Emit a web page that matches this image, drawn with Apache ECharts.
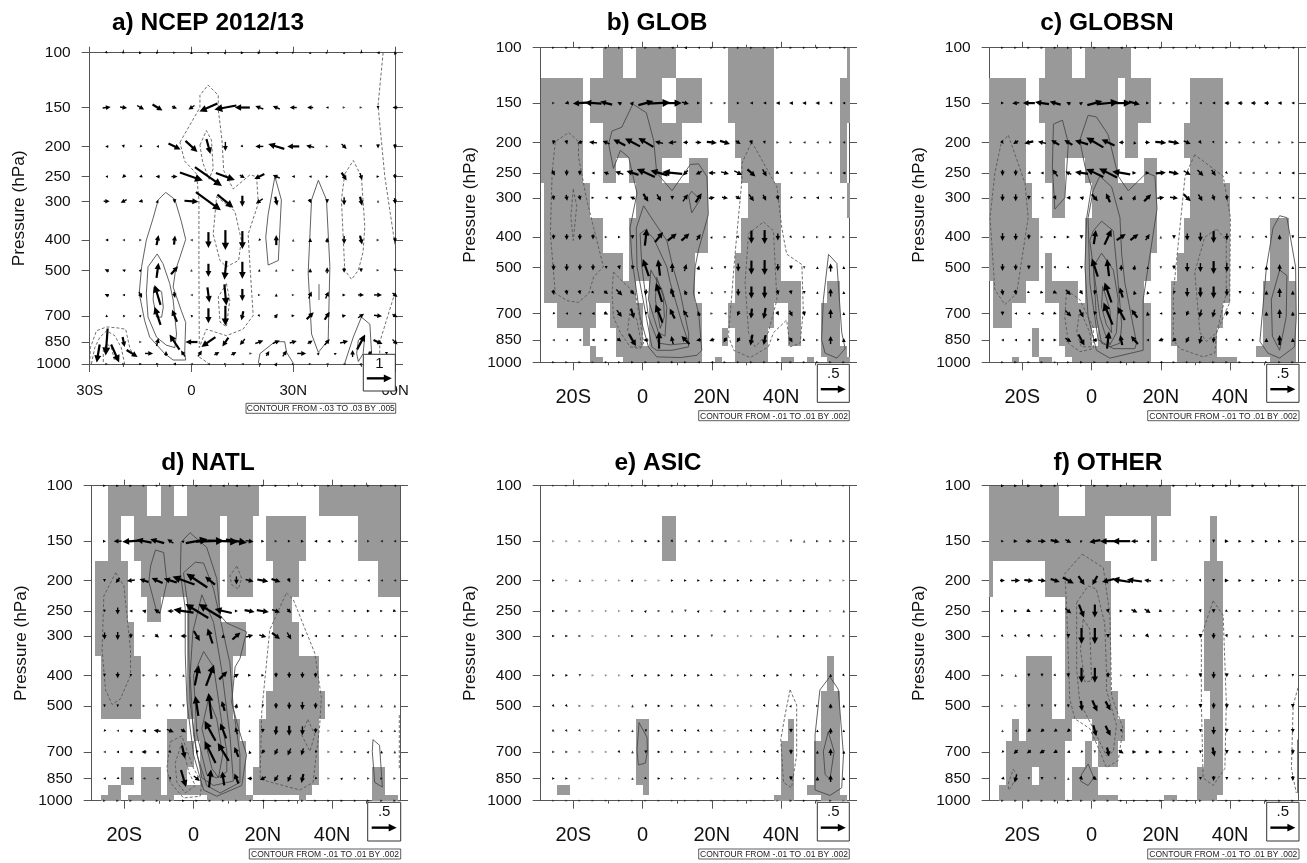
<!DOCTYPE html>
<html><head><meta charset="utf-8"><style>html,body{margin:0;padding:0;background:#fff}#c{width:1307px;height:863px}</style>
<script src="https://cdn.jsdelivr.net/npm/echarts@6/dist/echarts.min.js"></script></head><body><div id="c"></div>
<script>
// ---------- axes / categories ----------
const pressureTicks=[100,150,200,250,300,400,500,700,850,1000];
const levels=[100,150,200,250,300,400,500,600,700,850,1000];
const latsA=[-25,-20,-15,-10,-5,0,5,10,15,20,25,30,35,40,45,50,55,60];
const lats925A=[-27.5,-22.5,-17.5,-12.5,-7.5,-2.5,2.5,7.5,12.5,17.5,22.5,27.5,32.5,37.5,42.5,47.5,52.5,57.5];
const latsG=[-25.7,-21.9,-18.1,-14.3,-10.5,-6.7,-2.9,0.95,4.76,8.57,12.38,16.19,20,23.81,27.62,31.43,35.24,39.05,42.86,46.67,50.48,54.29,58.1];
const bandEdges=[100,124.5,173,225,270,348,450,550,648,780,890,960,1000];
const cellDeg=1.904;
const titles=['a) NCEP 2012/13','b) GLOB','c) GLOBSN','d) NATL','e) ASIC','f) OTHER'];
const keyText=['1','.5','.5','.5','.5','.5'];
const noteText=['CONTOUR FROM -.03 TO .03 BY .005','CONTOUR FROM -.01 TO .01 BY .002','CONTOUR FROM -.01 TO .01 BY .002','CONTOUR FROM -.01 TO .01 BY .002','CONTOUR FROM -.01 TO .01 BY .002','CONTOUR FROM -.01 TO .01 BY .002'];
// ---------- wind vectors: flat u,v pairs per level (25 units = key arrow) ----------
const windA=[
[1,-1,2,-1,3,0,2,0,1,0,0,2,1,1,1,1,3,0,3,0,-3,0,1,0,0,1,1,0,0,1,-1,-1,-3,0,-1,3],
[8,1,7,-1,7,-4,10,-6,5,-2,-6,-4,-18,-8,-22,-4,-15,0,-8,3,-7,3,-7,0,-6,0,-2,0,1,0,1,0,0,-3,-5,0],
[-3,0,1,-3,-2,-2,-2,0,12,-6,12,-11,4,-15,0,-9,1,-1,-8,0,-16,5,-12,0,-8,2,1,0,5,-5,1,-2,0,-4,0,-5],
[-2,0,-3,-3,-3,-1,-4,0,6,0,23,-8,27,-19,19,-7,5,-3,-10,-5,-7,3,-3,0,-2,0,2,0,5,-8,2,-7,2,0,1,-5],
[6,0,-6,-3,-4,-1,1,3,0,-4,14,-1,25,-18,16,-13,0,-11,-7,-5,2,-9,-1,0,2,-4,0,-4,0,-8,2,-9,0,1,1,-6],
[-3,0,-1,0,1,0,2,10,1,9,-1,0,0,-16,0,-20,0,-18,-1,-1,0,10,0,1,0,4,0,5,0,-8,2,-9,1,0,0,-5],
[-4,2,-3,1,1,1,2,15,7,8,0,1,0,-13,-2,-19,0,-17,0,2,0,1,1,0,0,4,0,6,0,-5,0,-4,1,0,0,-3],
[-4,2,-2,0,3,-6,-6,20,1,-6,-1,0,2,-15,2,-21,0,-12,1,0,0,3,1,0,3,7,3,7,3,0,6,0,8,0,5,-4],
[0,2,-1,1,1,1,-6,18,-5,12,-1,1,0,-15,0,-20,-2,-9,1,-1,3,4,3,0,7,7,5,8,4,1,6,4,8,-1,5,-3],
[-2,-27,2,-10,1,0,2,8,-10,15,-12,0,-14,-10,-6,-9,-5,-6,8,3,7,3,7,2,5,3,5,6,8,2,8,15,9,-4,5,-5],
[1,0,1,0,2,0,2,0,-3,0,-1,0,-1,0,1,0,-1,0,-2,0,2,3,1,0,1,0,-1,0,-1,0,1,1,-1,-1,2,3]];
const wind925A=[-3,-18,8,-18,11,-7,8,0,0,5,-4,6,4,6,5,3,5,3,1,0,3,5,4,6,9,0,2,2,2,1,0,7,-4,-4,0,-3];
const windB=[
[1,0,1,0,1,0,1,0,1,0,1,0,1,0,1,0,-1,0,-2,0,-3,0,-1,0,1,0,1,0,1,0,1,0,1,0,1,0,1,0,1,0,1,0,1,0,-1,0],
[1,0,-4,-1,-14,-1,-17,1,-12,3,-4,2,3,3,15,4,23,1,19,0,7,-2,3,0,1,0,1,0,2,0,-3,0,-3,0,-4,0,-4,0,-4,0,-4,0,-3,0,-2,0],
[-1,-4,1,-4,-5,-2,-8,1,-7,3,-12,6,-15,8,-15,9,-8,2,-8,-1,-5,0,6,0,10,-1,10,-3,5,-3,1,-4,1,-3,1,0,1,0,-1,0,-1,0,1,0,-1,0],
[3,-5,0,-6,0,-5,-3,0,-5,2,-8,3,-12,4,-18,8,-17,5,-20,2,-5,-5,-6,-3,-7,0,8,-2,8,-4,8,-7,4,-7,3,-2,-2,0,-1,0,-1,0,-1,0,-3,0],
[1,-5,1,-6,1,-5,2,0,-2,0,-4,1,-5,2,5,-8,4,-7,0,-4,5,7,6,9,6,1,6,-1,5,-3,5,-7,3,-6,1,-5,-1,-1,-2,0,-3,0,-2,0,1,0],
[0,-5,0,-6,0,-6,0,-5,1,0,2,0,0,-4,2,17,8,10,9,7,8,7,4,6,1,2,1,0,1,-1,0,-13,0,-14,0,-7,1,-1,1,0,1,0,2,0,1,0],
[0,-6,0,-7,0,-6,0,-6,0,-3,1,-4,-1,-4,-6,17,-2,16,0,9,2,7,1,4,0,1,0,-2,0,-8,0,-14,0,-15,0,-7,0,-4,0,-1,0,2,0,8,0,3],
[1,-5,1,-5,1,-4,2,-2,4,-3,6,-6,4,-4,-1,-6,-6,19,-3,9,-2,5,-1,1,0,1,0,-1,0,-7,0,-12,0,-12,1,-5,1,-4,0,-3,0,2,0,8,0,3],
[-1,-1,-2,0,-2,0,-3,0,4,-2,5,-7,3,-10,-1,-3,-7,18,-5,10,-5,7,-2,5,1,0,-1,0,-2,-5,-1,-10,-2,-11,2,-4,3,-6,1,-5,0,2,0,9,0,3],
[-1,0,-1,0,-1,0,-3,0,3,0,4,-3,7,-12,-5,0,0,17,-2,8,-8,8,-5,-1,-5,-2,-3,-5,-3,-5,-2,-11,-2,-10,-1,-2,3,-5,2,-1,1,0,0,8,0,4],
[1,0,1,0,1,0,.7,0,1,0,1,0,2,0,1,0,1,0,2,0,1,0,-1,0,-2,0,1,0,1,0,1,0,1,0,1,0,1,0,1,0,1,0,1,0,1,0]];
const windC=[
[1,0,1,0,1,0,1,0,1,0,1,0,1,0,1,0,-1,0,-2,0,-2,0,-1,0,1,0,1,0,1,0,1,0,1,0,1,0,1,0,1,0,1,0,1,0,-1,0],
[3,0,-7,-1,-12,0,-14,2,-11,3,-4,2,3,2,15,4,21,2,20,0,11,-3,3,0,1,0,1,0,1,0,-2,0,-3,0,-5,0,-5,0,-5,0,-5,0,-4,0,-3,0],
[2,-3,-5,-3,-9,-2,-8,2,-8,5,-8,5,-13,4,-17,10,-13,6,-5,0,-1,3,5,0,11,-1,11,-2,7,-3,2,-3,1,-2,1,0,1,0,-1,0,-1,0,1,0,1,0],
[0,-6,0,-6,-3,-1,-3,0,-5,7,-6,3,-13,2,-17,8,-18,9,-18,3,4,0,4,0,10,1,10,-2,7,-4,6,-6,4,-6,2,-2,-1,0,-1,0,-1,0,-2,0,-3,0],
[0,-7,0,-7,0,-4,-1,0,2,-4,-4,0,-4,1,6,-7,-4,9,1,4,2,5,7,7,7,1,8,-1,7,-7,4,-7,2,-6,0,-5,-1,0,-2,0,-1,0,-2,0,-2,0],
[0,-8,0,-7,0,-5,1,0,2,0,3,0,0,-4,2,14,7,15,9,6,8,6,4,6,0,1,0,-4,0,-7,0,-9,0,-12,0,-7,0,-1,1,0,1,-1,0,5,0,-3],
[0,-7,0,-6,0,-4,0,-2,1,-2,1,-1,0,-3,-6,18,-2,17,0,6,1,5,0,2,0,-1,0,-4,0,-9,0,-9,0,-13,0,-9,0,-2,1,0,0,4,0,7,0,3],
[1,-6,1,-5,2,-1,3,-1,4,-2,5,-5,3,-4,-1,-5,-7,20,-3,10,-1,4,-1,3,1,0,-1,-3,0,-9,0,-10,0,-12,0,-7,0,-3,0,1,0,4,0,9,0,4],
[0,-4,-2,0,-2,0,-3,0,3,-1,6,-6,4,-8,-1,-4,-9,22,-7,13,-6,8,-1,4,-2,0,-2,-1,-2,-5,-2,-8,-2,-8,-1,-5,1,-3,1,-1,0,4,0,9,0,4],
[-2,0,-2,0,-2,0,-3,0,3,0,6,-4,6,-11,-5,0,2,17,-2,10,-7,8,-2,0,-5,-2,-4,-3,-3,-6,-2,-8,-1,-6,1,-1,2,-1,2,0,0,4,0,10,0,4],
[1,0,1,0,1,0,1,0,.7,0,1,0,2,0,1,0,1,0,2,0,1,0,-1,0,-2,0,1,0,1,0,1,0,1,0,1,0,1,0,1,0,1,0,1,0,1,0]];
const windD=[
[2,0,2,0,2,0,1,0,1,0,1,0,1,0,1,0,-1,0,-2,0,-2,0,1,0,1,0,2,0,1,0,1,0,1,0,1,0,1,0,1,0,1,0,1,0,-1,0],
[3,0,-8,0,-17,-1,-15,3,-14,4,-6,4,2,2,22,4,28,1,30,-1,21,-3,8,-1,3,0,1,0,2,0,3,0,-3,0,-3,0,-1,1,-1,0,1,0,-1,0,-1,0],
[0,-3,-4,-5,-8,-1,-9,3,-11,5,-13,4,-22,8,-21,14,-10,8,-1,0,0,-8,8,-2,11,-2,9,-3,2,-4,-2,0,-1,0,-2,0,-1,0,-1,0,-2,0,-1,0,-1,0],
[0,-2,0,-7,-3,0,-4,1,-6,4,-6,0,-20,3,-23,14,-23,14,-17,4,3,0,10,-2,12,-2,8,-3,4,-4,-2,0,1,0,-1,0,-1,0,2,0,3,0,2,0,3,-1],
[0,-7,0,-8,0,-5,1,0,4,-3,-3,0,-6,0,6,-10,-5,15,0,4,8,7,7,2,7,-2,8,-6,4,-7,-1,-2,-2,0,-2,0,-2,0,-1,0,1,0,-1,0,-2,0],
[0,-3,0,-6,0,-2,1,0,1,0,1,0,0,1,4,20,8,21,8,8,5,3,3,0,2,0,0,-5,0,-6,0,-6,0,-5,1,0,1,0,1,0,1,0,1,0,-1,-1],
[0,-2,0,-2,0,-2,1,0,0,-1,0,-2,0,-1,-3,20,-3,26,-3,10,1,5,0,1,0,-2,0,-6,0,-7,0,-8,0,-6,0,-1,0,1,0,1,0,1,0,1,0,1],
[-1,-1,-1,0,-3,1,-4,0,-7,1,7,-3,5,-3,-1,-2,-11,20,-6,15,-2,7,0,1,0,-4,-1,-9,0,-10,0,-9,0,-5,.5,0,0,1,0,1,0,1,0,1,0,1],
[-1,0,-2,0,-3,0,-5,0,-3,0,2,-2,3,-13,-1,-3,-11,22,-11,18,-4,10,-1,3,-3,-4,-3,-6,-3,-7,-2,-7,-1,-2,.7,0,1,0,1,0,1,1,0,2,0,1],
[-2,0,-2,-1,-1,0,-1,0,-1,0,1,-2,5,-17,6,-5,2,18,-2,14,-4,10,-5,0,-6,-3,-4,-6,-3,-7,-2,-9,-1,-1,.7,0,1,1,1,0,1,0,1,0,1,0],
[1,0,1,0,1,0,1,0,1,0,1,0,2,0,1,0,1,0,1,0,1,0,-1,0,-1,0,1,0,1,0,1,0,1,0,1,0,1,0,1,0,1,0,1,0,1,0]];
const windE=[
[.5,0,.5,0,.5,0,.5,0,.5,0,.5,0,.7,0,1,0,1,0,1,0,1,0,1,0,.7,0,.5,0,.5,0,.5,0,.5,0,.5,0,.5,0,.5,0,.5,0,.5,0,.5,0],
[.5,0,.5,0,.5,0,.5,0,.5,0,.5,0,1,0,1.5,0,1.5,0,1,-1,-1,0,-1,0,-1,0,-1,0,-.5,0,.5,0,.5,0,.5,0,0,-1,0,.8,1,0,1,0,1,0],
[1.5,0,.5,0,0,1,.5,0,.5,0,.5,0,1,1,.5,0,.5,0,2,0,2.5,0,2,0,1.5,0,1.5,0,1.5,0,2,0,1.5,0,1,0,1,0,1,0,1,0,.8,0,.6,0],
[1.5,0,1,0,.7,0,.5,0,.5,0,.5,0,1,0,1,1,1,0,0,1,0,-1,1,1,.5,0,1,1,1,0,1,0,1,0,1,0,1.5,0,2,0,1,0,.5,0,0,1],
[2,0,1.5,0,1,0,.5,0,.5,0,.5,0,1.5,0,.5,0,1,0,1.5,0,2.5,0,2,0,0,-1,.5,0,.5,0,.5,0,.5,0,0,1,1.5,0,2,0,1,0,.5,0,1,0],
[2,0,1.5,0,0,-1,.5,0,.5,0,.5,0,1,1,2,0,2.5,0,2,0,1.5,0,1.5,0,1.5,-1,.5,0,.7,0,1,0,1,1,1.5,0,1,-2,1,0,1,0,0,3,1,-1],
[1,-1,.8,-1,.7,0,.5,0,.5,0,.5,0,0,1,0,-1.5,1.5,0,1,0,.7,0,1.5,-1,1,-1,.5,0,.5,0,.5,0,1,-1.5,1,-1.5,.7,1,.7,0,1,0,0,5,0,1.5],
[1,-.5,.8,-.8,.6,-.8,.5,0,.5,0,1,0,0,1,0,-2.5,1.5,0,1,-1,.8,-1,1,-.8,1,-.8,.5,0,.7,0,1,-1,1,-2,1,-2.5,0,-4,1,-1,0,2,0,6,0,2],
[1,0,1,0,.6,0,.5,0,.5,0,1,-1,0,1,0,-3,1.5,0,1,0,1,0,1,0,1,0,.6,0,1,0,1,0,1,-1.5,1,-1.5,0,-5,1,-1,0,3,0,7,0,3],
[1.5,0,1.5,0,.6,0,.5,0,.5,0,.5,0,0,1,1.5,-1,1.5,0,1,0,1,0,.7,0,.6,0,.6,0,1,0,1.5,0,1.5,0,1.5,-1,0,-4,1,0,0,4,0,7,0,3],
[.5,0,.5,0,.5,0,.5,0,.5,0,.5,0,.5,0,.5,0,.5,0,.5,0,.5,0,.5,0,.5,0,.5,0,.5,0,.5,0,.5,0,.5,0,1,0,1,0,.5,0,1,0,.5,0]];
const windF=[
[3,0,3,0,3,0,3,0,2,0,1,0,1,0,2,0,2,0,2,0,1,0,1,0,1,0,2,0,1,0,2,0,3,0,3,0,3,0,3,0,2,0,2,0,2,0],
[2,0,4,0,6,0,8,0,9,-2,6,-3,2,1,-11,-2,-16,0,-18,0,-7,0,-3,0,1,0,.8,0,.7,0,1,0,0,-3,4,0,3,0,3,0,3,0,3,0,3,0],
[5,0,9,0,9,-1,8,-1,9,-3,11,-6,6,-9,-5,-9,-12,-3,-18,3,-15,2,-7,1,-3,0,.8,0,.8,0,1,-2,0,-3,4,0,3,0,3,0,2,0,3,0,2,0],
[3,0,3,0,4,-2,2,0,2,-1,6,-5,5,-13,0,-13,1,-4,3,0,6,-3,6,-4,3,-1,1,0,1,0,1,-3,0,-4,2,-1,2,0,1,0,1,0,2,0,1,0],
[1,-1,1,-1,1,-3,1,-1,1,0,0,-4,0,-16,0,-16,0,-4,1,-1,2,-1,3,-3,2,-1,1,0,1,0,0,-4,0,-6,1,-3,0,1,0,1,1,-1,1,0,2,0],
[1,0,0,1,0,-3,0,-3,1,-1,0,-4,0,-15,0,-15,0,-5,.7,0,1,1,1,-1,1,0,1,0,.7,0,0,-4,0,-7,0,-4,0,1,0,1,1,1,1,0,0,-2],
[.7,0,.7,0,0,-3,0,-2,0,-2,0,-3,1,-10,5,-11,5,-9,1,-1,1,-1,1,-1,1,1,1,1,.7,0,0,-4,0,-6,0,-5,0,1,0,1,1,0,1,0,0,-4],
[0,1,-1,0,-3,-3,-3,-3,-3,-2,-3,-3,-1,0,3,-11,5,-10,0,-2,1,0,1,1,1,1,0,1,1,0,0,-3,0,-8,0,-4,0,1,0,1,0,1,1,0,0,-4],
[-1,-1,-4,-4,-4,-3,-5,-3,-4,-2,-3,-1,-1,-1,0,-1,2,-9,5,-3,4,0,4,0,4,0,3,0,2,0,0,-3,2,-9,0,-4,2,0,1,0,1,0,1,0,0,-5],
[-3,-1,-2,-8,0,-2,0,-3,0,-1,0,1,3,-3,4,-3,1,0,1,0,1,0,2,0,1,0,1,0,1,0,0,-3,0,-5,0,-3,1,0,1,0,1,0,1,0,0,-5],
[1,0,1,0,1,0,1,0,1,0,1,0,1,0,1,0,1,0,1,0,1,0,1,0,1,0,1,0,1,0,1,0,1,0,1,0,1,0,1,0,1,0,1,0,1,0]];
// ---------- significance shading: per pressure band, runs of grid-cell edges ----------
const shadeB=[[[-6,-3],[-1,5],[13,20],[31,31.4]],[[-15.4,-9],[-8,3],[5,9],[13,20],[30,31.4]],[[-15.4,-9],[-6,6],[14,20],[30,31]],[[-15.4,-9],[-6,-4],[-2,3],[7,10],[15,20],[30,31]],[[-15,-8],[-1,10],[16,21],[31,31.4]],[[-15,-6],[-2,10],[15,21]],[[-15,-3],[-2,8],[14,21]],[[-15,-1],[1,8],[14,24],[28,30]],[[-13,-7],[-5,0],[1,9],[13,20],[22,24],[27,30]],[[-9,-8],[-4,0],[1,9],[12,13],[14,19],[22,24],[27,30]],[[-8,-7],[-4,9],[14,19],[27,31]],[[-8,-6],[-3,9],[11,12],[14,19],[21,23],[25,26],[28,31.4]]];
const shadeC=[[[-7,-3],[-1,6]],[[-15.5,-10],[-8,4],[5,9],[15,20]],[[-15.5,-10],[-7,4],[5,7],[14,20]],[[-15.5,-10],[-7,-4],[-1,4],[8,10],[15,20]],[[-15.5,-9],[-6,-4],[0,10],[15,21]],[[-15.5,-8],[-1,10],[14,21],[27,30]],[[-15.5,-8],[-7,-6],[-1,9],[13,21],[27,30]],[[-15,-10],[-7,-2],[-1,8],[12,21],[26,31]],[[-15,-12],[-5,9],[12,20],[26,31]],[[-9,-8],[-5,0],[1,9],[12,19],[26,31]],[[-9,-8],[-4,9],[13,19],[25,31]],[[-12,-11],[-8,-6],[-3,9],[13,22],[27,31]]];
const shadeD=[[[-13,-7],[-5,-3],[-1,10],[19,31.35]],[[-13,-11],[-9,4],[5,9],[11,17],[25,31.35]],[[-15,-10],[-8,4],[5,9],[12,16],[28,31.35]],[[-15,-10],[-7,-5],[-1,4],[12,15]],[[-15,-9],[-1,8],[12,16]],[[-14,-8],[-1,6],[12,19]],[[-14,-8],[-1,6],[11,20]],[[-4,-1],[0,7],[10,19]],[[-4,0],[1,8],[10,19]],[[-11,-9],[-8,-5],[-4,-1],[1,8],[9,19],[27,29]],[[-13,-11],[-8,-5],[-4,8],[9,18],[27,29]],[[-14,-11],[-10,-3],[2,9],[16,17],[27,31]]];
const shadeE=[[],[[3,5]],[],[],[],[[28,29]],[[27,30]],[[-1,1],[22,23],[27,30]],[[-1,1],[21,23],[26,30]],[[-1,1],[21,23],[26,30]],[[-13,-11],[0,1],[21,23],[25,30]],[[20,23],[27,31]]];
const shadeF=[[[-15.5,-5],[-1,12]],[[-15.5,2],[9,10],[18,19]],[[-15.5,-15],[-7,3],[17,20]],[[-4,3],[17,20]],[[-4,3],[17,20]],[[-10,-6],[-4,3],[17,20]],[[-10,-6],[-4,4],[18,20]],[[-12,-11],[-10,-3],[0,5],[17,20]],[[-13,-4],[-1,0],[1,4],[17,20]],[[-13,-9],[-8,-4],[-3,1],[16,20]],[[-14,-4],[-3,1],[16,20]],[[-14,-4],[-3,4],[11,13],[16,19]]];
// ---------- contours [lat, hPa] ----------
const solidA=[
[[-9.8,297],[-7.6,281],[-4.9,296],[-3,348],[-1.7,398],[-3.4,454],[-4.7,500],[-5.4,566],[-3,674],[-1.7,736],[-2,926],[-1.7,971],[-5.4,971],[-7.9,926],[-12.3,820],[-13.8,726],[-15.4,593],[-14.7,487],[-13.3,400],[-11.3,340],[-9.8,297]],
[[-10.1,443],[-8.4,476],[-6.4,552],[-5.4,623],[-4.4,801],[-4.9,886],[-7.4,870],[-10.3,820],[-12.8,707],[-13.3,593],[-12.8,487],[-10.1,443]],
[[-11.1,566],[-8.8,586],[-8.3,657],[-8.8,707],[-10.3,707],[-11.3,623],[-11.1,566]],
[[24.6,250],[26.5,297],[25.6,465],[22.6,481],[21.9,391],[22.6,331],[24.6,250]],
[[37.4,257],[39.8,297],[40.8,487],[40.3,838],[37.4,918],[35.4,801],[34.4,510],[35.4,297],[37.4,257]],
[[37.6,554],[37.6,623]],
[[19.7,993],[20.2,926],[24.6,848],[27.5,848],[28,916],[30,993]],
[[45.2,993],[47.7,820],[50.1,707],[52.6,745],[53.1,926]],
[[48.7,926],[49.2,838],[51.1,811],[50.6,926],[49.2,982],[48.7,926]]];
const dashA=[
[[-30,1000],[-29.8,886],[-28,782],[-25,760],[-22.1,765],[-19.4,773],[-18.2,886],[-16.7,960]],
[[-29.5,1000],[-28.5,886],[-27,820],[-25,782],[-22.6,811],[-20.7,886],[-19.7,1000]],
[[-26,985],[-26,905],[-25,860],[-23.6,886],[-22.6,985]],
[[-3.4,194],[2.5,150],[2.5,137],[4.9,127],[7.9,137],[7.9,152],[9,191],[9.5,239],[12.3,274],[17.2,247],[19.2,250],[19.7,305],[16.7,383],[17.2,476],[18.2,698],[15.2,773],[10.3,811],[4.4,773],[2.3,886],[2.2,487],[2.2,297],[1.5,245],[-2,223],[-3.4,194]],
[[2.3,950],[4.9,993]],
[[2.5,198],[4.4,178],[5.9,191],[6.4,236],[5.2,255],[3.3,225],[2.5,198]],
[[7.4,290],[12.8,323],[14.7,400],[13.9,465],[10.3,487],[8.4,465],[6.4,383],[7.4,290]],
[[10.3,552],[11.3,623],[10.3,760],[8.4,733],[7.9,609],[10.3,552]],
[[45.2,245],[47.7,222],[50.1,250],[51.1,362],[50.6,436],[49.2,500],[47.2,535],[45.2,500],[44.2,297],[45.2,245]],
[[56.5,100],[55,148],[57,250],[60,415]],
[[60,590],[55.5,850],[55.5,930]]];
const solidB=[
[[-2.8,151],[1.1,161],[3.2,197],[4.1,250],[8.5,285],[13.8,235],[16.2,234],[18.6,257],[19,339],[16.2,437],[15.2,497],[14.7,603],[16.2,698],[17.1,916],[15.7,950],[10.9,966],[4.1,961],[1.7,893],[-.7,717],[-3.1,464],[-3.6,374],[-1.6,290],[-4,223],[-6.4,212],[-8.4,242],[-9.8,202],[-8.8,184],[-6,179],[-2.8,151]],
[[.3,318],[3.2,356],[7,410],[8.5,485],[10.9,603],[13.3,808],[13.3,893],[8.5,916],[4.1,916],[2.7,893],[-.2,603],[-1.6,497],[-1.8,374],[.3,318]],
[[.8,379],[3.2,404],[7,497],[8,558],[11.3,745],[13.3,869],[8,880],[4.6,869],[1.7,717],[-.2,497],[-.7,390],[.8,379]],
[[2.4,509],[5.6,588],[7,668],[6.5,826],[4.6,805],[1.7,632],[2.4,509]],
[[4.1,537],[6,619],[6.3,717],[5.1,780],[3.7,632],[4.1,537]],
[[13.3,296],[14.2,286],[16.6,304],[14.2,335],[13.3,296]],
[[53.7,454],[56.1,485],[57.5,805],[58.5,905],[56.1,970],[52.7,935],[51.7,848],[52.2,632],[53.7,454]]];
const dashB=[
[[-21.3,186],[-18.5,199],[-18.5,222],[-16.1,305],[-11.3,497],[-14.1,535],[-15.5,603],[-18.5,645],[-21.8,637],[-25.2,603],[-26.6,390],[-26.1,250],[-25.2,199],[-21.3,186]],
[[-20,282],[-19,318],[-20,410],[-20.7,345],[-20,282]],
[[-8.4,516],[-5.5,558],[-2.1,603],[-.7,734],[.3,869],[-.7,905],[-3.6,893],[-6.4,805],[-8.4,717],[-8.8,603],[-8.4,516]],
[[-3.6,680],[-1.6,734],[-.2,893],[-2.6,893],[-4.3,790],[-3.6,680]],
[[31.5,199],[38.8,277],[40.2,374],[41.6,453],[46,489],[46.4,685],[45.5,869],[42.6,893],[41.6,734],[37.8,805],[36.3,893],[31.1,966],[26.3,916],[24.8,826],[26.7,453],[28.7,263],[28.7,233],[31.5,199]],
[[34.9,358],[37.8,382],[38.3,497],[38.8,632],[36.3,805],[32.5,893],[30.6,805],[29.6,558],[30.6,390],[34.9,358]]];
const solidC=[
[[-3.4,197],[-1,164],[1.4,166],[4.8,189],[7.7,256],[10.6,285],[15.9,250],[18.3,256],[18.9,325],[15.9,535],[14.9,632],[14.9,916],[5.3,970],[1.4,916],[-1,717],[-1.9,497],[-1.4,347],[0,277],[-1.9,238],[-3.4,197]],
[[2.4,256],[5.8,277],[8.2,347],[8.7,453],[9.6,558],[13,869],[12.5,905],[6.3,905],[1.9,848],[-.5,558],[-1,347],[.5,284],[2.4,256]],
[[2.9,356],[6.3,382],[7.4,517],[8.7,757],[8.2,869],[5.3,893],[2.9,869],[1.4,717],[.5,497],[-.5,410],[.5,382],[2.9,356]],
[[2.9,450],[6.3,509],[7.7,632],[7.2,805],[5.3,880],[3.8,805],[2.4,717],[.5,497],[2.9,450]],
[[3.2,573],[5.3,680],[5.8,805],[4.3,760],[2.9,668],[3.2,573]],
[[-11,175],[-8.4,170],[-6.7,201],[-7.7,300],[-10.6,326],[-11.3,239],[-11,175]],
[[54.3,342],[56.4,347],[58.9,497],[59.1,717],[58.6,893],[54.3,970],[50.9,935],[48.6,858],[50.5,497],[52.4,374],[54.3,342]],
[[54.3,509],[56.4,530],[56.2,717],[54.3,916],[52.2,826],[51.9,632],[54.3,509]]];
const dashC=[
[[-24,190],[-19.2,270],[-18.3,347],[-21.6,603],[-25,655],[-27.9,588],[-29.3,347],[-27.9,250],[-26,199],[-24,190]],
[[-7.2,588],[-3.4,632],[.5,773],[.5,905],[-3.4,925],[-6.7,869],[-7.7,717],[-7.2,588]],
[[-3.4,680],[-.5,805],[0,893],[-2.9,893],[-4.3,805],[-3.4,680]],
[[29.8,219],[27,256],[23.6,603],[23.6,848],[25.5,905],[32.2,961],[35.6,935],[36.1,805],[39.9,645],[40.1,347],[38,256],[29.8,219]],
[[36.1,377],[38.9,410],[38.9,603],[36.1,805],[33.2,858],[31.3,805],[29.8,517],[32.7,400],[36.1,377]]];
const solidD=[
[[-3.6,151],[-1,141],[3.8,157],[6.7,197],[7.7,258],[9.6,273],[15.3,291],[13.4,354],[12,376],[11,487],[13,590],[15.3,715],[13.9,895],[6.7,968],[2.9,925],[0,715],[-1.9,487],[-2.4,340],[-2.4,245],[-3.8,190],[-3.6,151]],
[[-2.9,189],[.5,175],[2.9,176],[5.8,213],[7.7,265],[10.5,366],[11.5,510],[13.4,715],[13.4,875],[7.7,945],[3.8,895],[1,715],[-1,487],[-1.4,331],[-1.4,252],[-2.9,189]],
[[2.4,222],[5.8,272],[8.1,383],[10.5,618],[11.5,866],[5.8,895],[2.4,846],[0,618],[-1,400],[-.2,291],[2.4,222]],
[[2.9,336],[5.8,376],[8.1,560],[9.6,697],[9.6,810],[6.7,846],[3.8,826],[1,618],[0,400],[2.9,336]],
[[4.3,475],[6.7,550],[8.4,715],[7.2,846],[5.3,790],[2.4,590],[4.3,475]],
[[-11,160],[-8.6,163],[-7.7,202],[-9.6,251],[-10.5,254],[-12.9,202],[-12.4,180],[-11,160]],
[[51.8,640],[53.7,667],[54.5,905],[52.3,875],[51.6,698],[51.8,640]]];
const dashD=[
[[12.5,180],[13.9,197],[12.9,213],[11,206],[10.5,193],[12.5,180]],
[[-22.5,189],[-20.1,208],[-18.2,333],[-18.2,400],[-21.1,475],[-23.5,495],[-25.4,445],[-26.4,333],[-25.9,224],[-22.5,189]],
[[-6.7,650],[-3.4,623],[0,790],[2.4,875],[1.9,968],[-2.9,980],[-6.7,875],[-7.7,790],[-6.7,650]],
[[-3.4,655],[-1.4,810],[.5,895],[-2.4,945],[-4.8,875],[-5.3,760],[-3.4,655]],
[[26.8,219],[28.8,230],[35,340],[36.9,470],[36.4,580],[34.5,875],[30.7,925],[19.2,855],[19.7,520],[22,287],[26.8,219]],
[[33,552],[35,618],[33.6,697],[31.2,618],[33,552]],
[[59.4,535],[59.4,790]]];
const solidE=[
[[-1,565],[1.3,630],[1.4,697],[.8,760],[-1.2,770],[-1.6,690],[-1,565]],
[[54.1,404],[56.5,443],[58,715],[57.5,910],[54.1,962],[49.8,925],[49.8,618],[51.2,445],[54.1,404]],
[[53.6,604],[55.3,697],[54.1,855],[52.7,826],[52.2,697],[53.6,604]]];
const dashE=[[[42.6,445],[44.5,497],[44.5,715],[43,910],[40.7,875],[39.9,640],[41.2,530],[42.6,445]]];
const solidF=[
[[-1,765],[.7,846],[-1,895],[-3.2,866],[-2.9,826],[-1,765]],
[[59.5,640],[59.5,945]]];
const dashF=[
[[-2.7,165],[3.4,182],[5.3,258],[5.8,465],[9.1,590],[7.7,745],[4.3,785],[2.4,697],[-.5,590],[-4.8,550],[-6.3,475],[-7.2,241],[-7.7,190],[-2.7,165]],
[[-4.3,235],[-1,208],[1.4,213],[3.8,273],[4.3,383],[4.3,445],[7.2,575],[6.3,697],[4.3,720],[.5,590],[-3.4,487],[-4.3,383],[-4.3,235]],
[[-2.4,265],[-.5,285],[0,416],[-1.9,420],[-3.2,331],[-2.4,265]],
[[35.1,232],[38,258],[38.9,487],[38.5,790],[35.1,895],[32.2,846],[31.7,487],[31.7,300],[35.1,232]],
[[-22.6,795],[-21.6,826],[-23.1,905],[-24,925],[-24,880],[-22.6,795]],
[[59.6,438],[58.2,498],[57.7,790],[59.1,945]]];
// ---------- layout ----------
const frames=[[89.7,52.7,305.3,311.3,-30,60],[540.7,47.7,308.3,314.6,-29.4,59.6],[989.7,47.7,308.3,314.6,-29.4,59.6],[91.7,485.7,308.3,315,-29.4,59.6],[540.7,485.7,308.3,315,-29.4,59.6],[989.7,485.7,308.3,315,-29.4,59.6]];
const shades=[[],shadeB,shadeC,shadeD,shadeE,shadeF];
const winds=[windA,windB,windC,windD,windE,windF];
const solids=[solidA,solidB,solidC,solidD,solidE,solidF];
const dashes=[dashA,dashB,dashC,dashD,dashE,dashF];
const keyBoxes=[[363.3,354.3,32,36.7],[817.3,364.3,32,38],[1266.7,364.3,32.3,38],[367.7,802.3,33,38.7],[817.3,802.3,32,38.7],[1266.7,802.3,32.3,38.7]];
const notes=[[246,403.3,149.7,10],[698.7,410.7,150.6,10],[1147.7,410.7,151.3,10],[249.3,849,151.4,10],[698.7,849,150.6,10],[1147.7,849,151.3,10]];
const titlePos=[[208,11],[657,11],[1107,11],[208,451],[658,451],[1108,451]];
const FONT='"Liberation Sans",Arial,sans-serif', AX='#555';

function arrowItem(params,api){
  const c=api.coord([api.value(0),api.value(1)]),u=api.value(2),v=api.value(3);
  const m=Math.hypot(u,v); if(!m) return null;
  const len=Math.max(m,2.6),ux=u/m,uy=-v/m,hl=Math.min(len,Math.min(8,3+m*.22)),hw=hl*.5;
  const tx=c[0]-ux*len/2,ty=c[1]-uy*len/2,px=c[0]+ux*len/2,py=c[1]+uy*len/2,bx=px-ux*hl*.9,by=py-uy*hl*.9;
  const op=Math.min(1,Math.max(.3,m/1.3)), lw=m>9?2.2:1.4;
  return {type:'group',silent:true,children:[
    {type:'line',shape:{x1:tx,y1:ty,x2:bx,y2:by},style:{stroke:'#000',lineWidth:lw,opacity:op}},
    {type:'polygon',shape:{points:[[px,py],[px-ux*hl-uy*hw,py-uy*hl+ux*hw],[px-ux*hl+uy*hw,py-uy*hl-ux*hw]]},style:{fill:'#000',opacity:op}}]};
}
function shadeItem(params,api){
  const k0=api.value(0)*cellDeg,k1=api.value(1)*cellDeg,b=api.value(2);
  const a=api.coord([k0,bandEdges[b]]),z=api.coord([k1,bandEdges[b+1]]);
  const x=Math.round(a[0]),y=Math.round(a[1]);
  return {type:'rect',silent:true,shape:{x,y,width:Math.round(z[0])-x,height:Math.round(z[1])-y},style:{fill:'#999999'}};
}
const grid=[],xAxis=[],yAxis=[],series=[],title=[],graphic=[];
frames.forEach((f,i)=>{
  grid.push({left:f[0],top:f[1],width:f[2],height:f[3]});
  const major=i===0?[-30,0,30,60]:[-20,0,20,40];
  const minor=i===0?[-20,-10,10,20,40,50]:[-10,10,30,50];
  const lab=v=>v<0?(-v)+'S':v>0?v+'N':'0';
  const base={type:'value',gridIndex:i,min:f[4],max:f[5],splitLine:{show:false},axisLine:{onZero:false,lineStyle:{color:AX,width:1}}};
  const xi=xAxis.length;
  xAxis.push({...base,position:'bottom',axisTick:{customValues:major,length:8,lineStyle:{color:AX}},axisLabel:{customValues:major,formatter:lab,margin:i===0?19:25,fontFamily:FONT,fontSize:i===0?15:20,color:'#111',showMinLabel:true,showMaxLabel:true,hideOverlap:false}});
  xAxis.push({...base,position:'top',axisTick:{customValues:major,length:6,lineStyle:{color:AX}},axisLabel:{show:false}});
  xAxis.push({...base,position:'bottom',axisTick:{customValues:minor,length:3,lineStyle:{color:AX}},axisLabel:{show:false}});
  xAxis.push({...base,position:'top',axisTick:{customValues:minor,length:3,lineStyle:{color:AX}},axisLabel:{show:false}});
  const yi=yAxis.length;
  const yb={type:'log',logBase:10,gridIndex:i,min:100,max:1000,inverse:true,splitLine:{show:false},minorTick:{show:false},axisLine:{onZero:false,lineStyle:{color:AX,width:1}},axisTick:{customValues:pressureTicks,length:8,lineStyle:{color:AX}}};
  yAxis.push({...yb,position:'left',axisLabel:{customValues:pressureTicks,margin:19,fontFamily:FONT,fontSize:15.5,color:'#111',formatter:v=>String(Math.round(v)),showMinLabel:true,showMaxLabel:true,hideOverlap:false},name:'Pressure (hPa)',nameLocation:'middle',nameRotate:90,nameGap:62,nameTextStyle:{fontFamily:FONT,fontSize:17.2,color:'#111'}});
  yAxis.push({...yb,position:'right',axisLabel:{show:false}});
  const ax={xAxisIndex:xi,yAxisIndex:yi,animation:false,silent:true};
  const sd=[]; shades[i].forEach((runs,b)=>runs.forEach(r=>sd.push([r[0],r[1],b])));
  if(sd.length) series.push({...ax,type:'custom',renderItem:shadeItem,data:sd,z:1,encode:{x:[0,1]}});
  solids[i].forEach(d=>series.push({...ax,type:'line',data:d,showSymbol:false,symbol:'none',z:3,lineStyle:{color:'#444',width:.85}}));
  dashes[i].forEach(d=>series.push({...ax,type:'line',data:d,showSymbol:false,symbol:'none',z:3,lineStyle:{color:'#555',width:.85,type:[3,2]}}));
  const ad=[], lats=i===0?latsA:latsG;
  winds[i].forEach((row,r)=>{for(let k=0;k<lats.length;k++){ad.push([lats[k],levels[r],row[2*k],row[2*k+1]]);}});
  if(i===0) lats925A.forEach((la,k)=>ad.push([la,925,wind925A[2*k],wind925A[2*k+1]]));
  series.push({...ax,type:'custom',renderItem:arrowItem,data:ad,z:4,encode:{x:0,y:1}});
  title.push({text:titles[i],left:titlePos[i][0],top:titlePos[i][1],padding:0,textAlign:'center',textStyle:{fontFamily:FONT,fontSize:24.5,fontWeight:'bold',color:'#000'}});
  const kb=keyBoxes[i],cx=kb[0]+kb[2]/2,ay=kb[1]+kb[3]*.655,al=kb[0]+kb[2]/2-12.5;
  graphic.push({type:'rect',z:100,shape:{x:kb[0],y:kb[1],width:kb[2],height:kb[3]},style:{fill:'#fff',stroke:'#333',lineWidth:1}});
  graphic.push({type:'text',z:101,x:cx,y:kb[1]+9.5,style:{text:keyText[i],font:'15px '+FONT,fill:'#111',textAlign:'center',textVerticalAlign:'middle'}});
  graphic.push({type:'line',z:101,shape:{x1:al,y1:ay,x2:al+19,y2:ay},style:{stroke:'#000',lineWidth:2.4}});
  graphic.push({type:'polygon',z:101,shape:{points:[[al+25,ay],[al+17,ay-3.8],[al+17,ay+3.8]]},style:{fill:'#000'}});
  const n=notes[i];
  graphic.push({type:'rect',z:100,shape:{x:n[0],y:n[1],width:n[2],height:n[3]},style:{fill:'#fff',stroke:'#333',lineWidth:.8}});
  graphic.push({type:'text',z:101,x:n[0]+n[2]/2,y:n[1]+n[3]/2+.5,style:{text:noteText[i],font:'8.5px '+FONT,fill:'#222',textAlign:'center',textVerticalAlign:'middle'}});
});
const chart=echarts.init(document.getElementById('c'),null,{renderer:'canvas'});
chart.setOption({animation:false,backgroundColor:'#fff',title,grid,xAxis,yAxis,series,graphic,tooltip:{show:false}});
</script></body></html>
